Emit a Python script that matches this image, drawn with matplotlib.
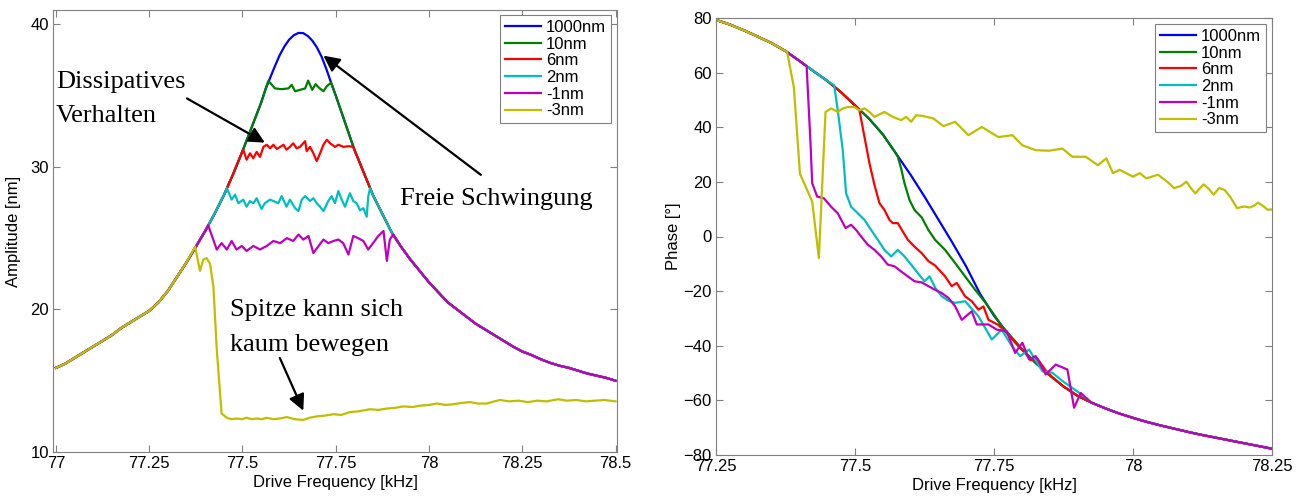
import matplotlib
matplotlib.use('agg')
import matplotlib.pyplot as plt
import numpy as np

plt.rcParams['font.family'] = ['Liberation Sans', 'DejaVu Sans']

labels = ['1000nm', '10nm', '6nm', '2nm', '-1nm', '-3nm']
colors = ['#0000ff', '#008000', '#ff0000', '#00bfbf', '#bf00bf', '#bfbf00']

# ---- amplitude: free oscillation (1000nm)
amp_f = [77.000, 77.025, 77.050, 77.075, 77.100, 77.125, 77.150, 77.175, 77.200, 77.225,
         77.250, 77.275, 77.300, 77.325, 77.350, 77.375, 77.400, 77.425, 77.450, 77.475,
         77.500, 77.525, 77.550, 77.5625, 77.575, 77.5875, 77.600, 77.6125, 77.625, 77.6375,
         77.650, 77.6625, 77.675, 77.6875, 77.700, 77.7125, 77.725, 77.7375, 77.750, 77.775,
         77.800, 77.825, 77.850, 77.875, 77.900, 77.925, 77.950, 77.975,
         78.000, 78.025, 78.050, 78.075, 78.100, 78.125, 78.150, 78.175, 78.200, 78.225,
         78.250, 78.275, 78.300, 78.325, 78.350, 78.375, 78.400, 78.425, 78.450, 78.475,
         78.500]
amp_free = [15.9, 16.2, 16.6, 17.0, 17.4, 17.8, 18.2, 18.7, 19.1, 19.5,
            19.9, 20.5, 21.3, 22.3, 23.3, 24.4, 25.5, 26.7, 28.0, 29.5,
            31.1, 32.8, 34.5, 35.5, 36.3, 37.1, 37.85, 38.45, 38.92, 39.23,
            39.39, 39.38, 39.18, 38.84, 38.35, 37.7, 36.85, 35.9, 35.0, 33.1,
            31.2, 29.6, 28.0, 26.7, 25.4, 24.4, 23.5, 22.7,
            21.9, 21.2, 20.5, 20.0, 19.5, 19.0, 18.6, 18.2, 17.8, 17.4,
            17.05, 16.8, 16.5, 16.25, 16.05, 15.9, 15.7, 15.5, 15.35, 15.2,
            15.0]

# amplitude plateaus where the tip interacts
amp10_f = [77.569, 77.574, 77.587, 77.605, 77.623, 77.632, 77.641, 77.654, 77.668, 77.676,
           77.687, 77.696, 77.705, 77.717, 77.726, 77.735]
amp10 = [36.0, 35.9, 35.5, 35.45, 35.5, 35.75, 35.3, 35.4, 35.5, 36.05,
         35.4, 35.8, 35.55, 35.3, 35.65, 35.85]

amp6_f = [77.502, 77.511, 77.520, 77.529, 77.538, 77.547, 77.556, 77.565, 77.574, 77.583,
          77.592, 77.601, 77.610, 77.618, 77.627, 77.636, 77.645, 77.654, 77.668, 77.672,
          77.681, 77.690, 77.699, 77.708, 77.717, 77.726, 77.735, 77.748, 77.757, 77.771,
          77.784, 77.797]
amp6 = [31.2, 30.5, 30.95, 30.6, 31.05, 30.7, 31.4, 31.55, 31.3, 31.55,
        31.25, 31.4, 31.55, 31.2, 31.4, 31.65, 31.3, 31.4, 31.8, 31.1,
        31.4, 30.95, 30.4, 30.95, 31.55, 31.9, 31.65, 31.4, 31.55, 31.4,
        31.45, 31.4]

amp2_f = [77.458, 77.471, 77.480, 77.489, 77.502, 77.511, 77.520, 77.529, 77.538, 77.551,
          77.560, 77.574, 77.583, 77.596, 77.605, 77.618, 77.627, 77.641, 77.650, 77.659,
          77.668, 77.681, 77.690, 77.699, 77.708, 77.717, 77.730, 77.739, 77.748, 77.757,
          77.766, 77.775, 77.783, 77.788, 77.797, 77.806, 77.815, 77.824, 77.833, 77.837,
          77.842]
amp2 = [28.5, 27.7, 28.05, 27.45, 27.7, 27.2, 27.6, 27.45, 27.8, 27.05,
        27.45, 27.7, 27.6, 27.45, 27.95, 27.2, 27.7, 27.1, 26.9, 27.7,
        27.95, 27.6, 27.8, 27.45, 27.2, 26.9, 27.6, 27.95, 27.45, 28.3,
        27.7, 27.2, 27.8, 28.15, 27.6, 27.45, 26.95, 27.1, 26.5, 27.9,
        28.5]

ampm1_f = [77.408, 77.431, 77.444, 77.458, 77.471, 77.484, 77.498, 77.511, 77.529, 77.547,
           77.565, 77.583, 77.601, 77.619, 77.636, 77.650, 77.663, 77.677, 77.690, 77.704,
           77.717, 77.730, 77.744, 77.757, 77.770, 77.784, 77.797, 77.810, 77.824, 77.837,
           77.850, 77.864, 77.878, 77.887, 77.895, 77.904]
ampm1 = [25.9, 24.2, 24.65, 24.2, 24.8, 24.2, 24.45, 24.1, 24.45, 24.2,
         24.45, 24.8, 24.65, 25.0, 24.8, 25.25, 24.9, 25.15, 23.95, 24.45,
         24.9, 24.65, 24.8, 24.9, 24.65, 23.85, 25.15, 25.0, 24.8, 24.2,
         24.65, 25.15, 25.5, 23.4, 24.9, 25.25]

ampm3_f = [77.373, 77.386, 77.395, 77.404, 77.413, 77.422, 77.431, 77.444, 77.458, 77.471,
           77.484, 77.498, 77.511, 77.525, 77.538, 77.552, 77.565, 77.583, 77.600, 77.619,
           77.640, 77.663, 77.680, 77.699, 77.720, 77.744, 77.765, 77.788, 77.810, 77.842,
           77.865, 77.887, 77.910, 77.932, 77.955, 77.976, 78.000, 78.021, 78.045, 78.065,
           78.090, 78.110, 78.130, 78.155, 78.175, 78.190, 78.215, 78.240, 78.265, 78.290,
           78.315, 78.346, 78.370, 78.395, 78.420, 78.445, 78.470, 78.500]
ampm3 = [24.4, 22.7, 23.5, 23.6, 23.2, 21.6, 17.2, 12.7, 12.4, 12.3,
         12.35, 12.3, 12.4, 12.3, 12.35, 12.3, 12.4, 12.3, 12.35, 12.45,
         12.3, 12.25, 12.4, 12.5, 12.55, 12.65, 12.6, 12.8, 12.85, 13.0,
         12.95, 13.05, 13.1, 13.2, 13.15, 13.25, 13.3, 13.4, 13.3, 13.35,
         13.45, 13.5, 13.4, 13.4, 13.55, 13.65, 13.55, 13.6, 13.5, 13.6,
         13.55, 13.7, 13.6, 13.65, 13.55, 13.6, 13.65, 13.55]

# ---- phase: free oscillation (1000nm)
ph_f = [77.250, 77.275, 77.300, 77.325, 77.350, 77.375, 77.400, 77.425, 77.450, 77.475,
        77.500, 77.525, 77.550, 77.575, 77.600, 77.625, 77.650, 77.675, 77.700, 77.725,
        77.750, 77.775, 77.800, 77.825, 77.850, 77.875, 77.900, 77.925, 77.950, 77.975,
        78.000, 78.025, 78.050, 78.075, 78.100, 78.125, 78.150, 78.175, 78.200, 78.225,
        78.250]
ph_free = [79.3, 77.6, 75.5, 73.2, 70.8, 67.9, 64.3, 60.6, 57.0, 52.8,
           48.0, 43.2, 37.4, 30.0, 22.6, 14.6, 6.2, -2.2, -11.0, -21.0,
           -29.0, -35.6, -41.2, -46.3, -50.8, -54.9, -58.3, -60.8, -62.9, -64.8,
           -66.4, -67.9, -69.2, -70.4, -71.6, -72.7, -73.7, -74.7, -75.7, -76.7,
           -77.7]

ph10_f = [77.577, 77.583, 77.589, 77.598, 77.607, 77.620, 77.632, 77.644, 77.662, 77.680,
          77.698, 77.716, 77.735, 77.750, 77.764, 77.775]
ph10 = [29.2, 24.9, 19.5, 13.4, 9.7, 7.0, 2.4, -1.2, -4.9, -9.7,
        -14.6, -19.5, -24.3, -28.6, -32.8, -35.3]

ph6_f = [77.508, 77.517, 77.526, 77.535, 77.544, 77.553, 77.562, 77.568, 77.577, 77.586,
         77.595, 77.607, 77.620, 77.632, 77.644, 77.662, 77.674, 77.683, 77.698, 77.710,
         77.722, 77.731, 77.740, 77.758, 77.776, 77.795, 77.807, 77.816, 77.828, 77.843,
         77.855]
ph6 = [46.2, 36.5, 26.8, 18.9, 12.2, 9.7, 6.1, 4.9, 4.9, 1.8,
       -1.2, -3.7, -6.1, -9.0, -10.6, -14.6, -18.2, -17.0, -21.9, -23.7,
       -26.8, -25.6, -30.5, -32.4, -36.0, -40.4, -42.9, -45.3, -44.7, -49.0,
       -51.5]

ph2_f = [77.4625, 77.469, 77.478, 77.484, 77.493, 77.505, 77.517, 77.529, 77.541, 77.553,
         77.565, 77.577, 77.589, 77.601, 77.613, 77.625, 77.634, 77.645, 77.656, 77.668,
         77.680, 77.698, 77.722, 77.746, 77.764, 77.782, 77.797, 77.813, 77.828, 77.837,
         77.855, 77.873, 77.903]
ph2 = [55.4, 46.2, 31.6, 15.8, 10.9, 8.5, 6.1, 2.4, -1.2, -4.9,
       -7.3, -4.9, -7.3, -10.3, -13.4, -16.4, -14.6, -19.0, -21.9, -23.5,
       -24.3, -23.7, -29.2, -37.7, -34.1, -40.1, -43.8, -41.4, -46.3, -49.3,
       -49.9, -52.9, -57.2]

phm1_f = [77.413, 77.420, 77.423, 77.432, 77.444, 77.457, 77.469, 77.483, 77.493, 77.502,
          77.511, 77.523, 77.535, 77.547, 77.559, 77.571, 77.583, 77.595, 77.607, 77.620,
          77.632, 77.644, 77.656, 77.668, 77.680, 77.692, 77.710, 77.719, 77.740, 77.755,
          77.773, 77.788, 77.801, 77.813, 77.825, 77.843, 77.861, 77.882, 77.894, 77.906]
phm1 = [62.3, 34.1, 19.5, 14.6, 14.0, 10.9, 8.5, 3.1, 4.3, 2.4,
        0.0, -3.0, -4.9, -7.3, -10.3, -10.9, -12.8, -14.6, -16.4, -16.8,
        -18.2, -19.5, -20.7, -22.5, -25.5, -30.5, -27.4, -32.2, -32.2, -34.1,
        -34.7, -42.6, -38.9, -45.0, -43.8, -50.5, -46.9, -48.7, -62.7, -57.3]

phm3_f = [77.378, 77.390, 77.401, 77.414, 77.423, 77.435, 77.447, 77.457, 77.469, 77.478,
          77.487, 77.499, 77.508, 77.517, 77.526, 77.535, 77.553, 77.568, 77.583, 77.592,
          77.601, 77.610, 77.620, 77.629, 77.641, 77.659, 77.680, 77.704, 77.728, 77.758,
          77.783, 77.801, 77.825, 77.849, 77.873, 77.891, 77.915, 77.937, 77.952, 77.964,
          77.976, 78.000, 78.012, 78.024, 78.045, 78.062, 78.074, 78.086, 78.096, 78.105,
          78.112, 78.127, 78.136, 78.145, 78.155, 78.165, 78.175, 78.187, 78.200, 78.210,
          78.217, 78.225, 78.235, 78.242, 78.250]
phm3 = [67.5, 54.7, 23.0, 17.0, 12.8, -7.9, 45.6, 46.9, 45.6, 46.9,
        47.4, 47.4, 46.2, 46.9, 45.6, 43.8, 45.6, 43.8, 42.6, 43.8,
        42.0, 44.4, 44.2, 43.8, 43.2, 40.4, 42.0, 37.1, 40.1, 36.4,
        37.1, 33.4, 31.6, 31.4, 32.2, 29.2, 29.2, 26.1, 28.6, 23.2,
        24.4, 21.9, 23.2, 21.3, 22.6, 20.0, 17.7, 18.5, 20.1, 17.5,
        15.8, 19.1, 17.5, 15.3, 17.8, 17.0, 14.5, 10.4, 11.0, 10.6,
        11.2, 12.4, 11.0, 9.8, 9.9]


def merge(base_f, base_v, seg_f, seg_v):
    # curve follows the free oscillation outside its own segment
    base_f = np.array(base_f)
    base_v = np.array(base_v)
    lo = base_f < seg_f[0]
    hi = base_f > seg_f[-1]
    return (np.concatenate([base_f[lo], seg_f, base_f[hi]]),
            np.concatenate([base_v[lo], seg_v, base_v[hi]]))


amp_segs = [(amp10_f, amp10), (amp6_f, amp6), (amp2_f, amp2),
            (ampm1_f, ampm1), (ampm3_f, ampm3)]
ph_segs = [(ph10_f, ph10), (ph6_f, ph6), (ph2_f, ph2),
           (phm1_f, phm1), (phm3_f, phm3)]

fig = plt.figure(figsize=(13.01, 5.0), dpi=100)
ax1 = fig.add_axes([53 / 1301, 48 / 500, 564 / 1301, 442 / 500])
ax2 = fig.add_axes([716 / 1301, 45 / 500, 556 / 1301, 437 / 500])

lw = 1.6
ax1.plot(amp_f, amp_free, color=colors[0], lw=lw, label=labels[0])
for (sf, sv), c, lab in zip(amp_segs, colors[1:], labels[1:]):
    x, y = merge(amp_f, amp_free, sf, sv)
    ax1.plot(x, y, color=c, lw=lw, label=lab)

ax2.plot(ph_f, ph_free, color=colors[0], lw=lw, label=labels[0])
for (sf, sv), c, lab in zip(ph_segs, colors[1:], labels[1:]):
    x, y = merge(ph_f, ph_free, sf, sv)
    ax2.plot(x, y, color=c, lw=lw, label=lab)

ax1.set_xlim(76.992, 78.504)
ax1.set_ylim(10, 41)
ax1.set_xticks([77, 77.25, 77.5, 77.75, 78, 78.25, 78.5])
ax1.set_xticklabels(['77', '77.25', '77.5', '77.75', '78', '78.25', '78.5'])
ax1.set_yticks([10, 20, 30, 40])
ax1.set_ylabel('Amplitude [nm]', fontsize=12)
ax1.yaxis.set_label_coords(-0.057, 0.5)

ax2.set_xlim(77.25, 78.25)
ax2.set_ylim(-80, 80)
ax2.set_xticks([77.25, 77.5, 77.75, 78, 78.25])
ax2.set_xticklabels(['77.25', '77.5', '77.75', '78', '78.25'])
ax2.set_yticks(np.arange(-80, 81, 20))
ax2.set_ylabel('Phase [°]', fontsize=12)
ax2.yaxis.set_label_coords(-0.063, 0.5)

for ax in (ax1, ax2):
    ax.set_xlabel('Drive Frequency [kHz]', fontsize=12, labelpad=3)
    ax.tick_params(direction='in', top=True, right=True, length=5, width=0.8,
                   color='#808080', labelsize=12, pad=3)
    for s in ax.spines.values():
        s.set_color('#808080')
        s.set_linewidth(0.8)

leg_kw = dict(loc='upper right', fontsize=12, labelspacing=0.1, handlelength=2.2,
              handletextpad=0.28, borderpad=0.3, borderaxespad=0, fancybox=False,
              framealpha=1, edgecolor='#808080')
leg1 = ax1.legend(bbox_to_anchor=(1 - 6 / 564, 1 - 5 / 442), **leg_kw)
leg2 = ax2.legend(bbox_to_anchor=(1 - 6 / 556, 1 - 6 / 437), **leg_kw)
for leg in (leg1, leg2):
    leg.get_frame().set_linewidth(0.8)

# annotations in the amplitude plot
serif = dict(family=['Liberation Serif', 'DejaVu Serif'], fontsize=19)
arrow = dict(arrowstyle='-|>', color='k', lw=1.6, mutation_scale=24,
             shrinkA=0, shrinkB=0)
ax1.text(77.0, 35.5, 'Dissipatives', va='baseline', **serif)
ax1.text(77.0, 33.15, 'Verhalten', va='baseline', **serif)
ax1.annotate('', xy=(77.560, 31.7), xytext=(77.351, 34.8), arrowprops=arrow)
ax1.text(77.922, 27.34, 'Freie Schwingung', va='baseline', **serif)
ax1.annotate('', xy=(77.717, 37.8), xytext=(78.139, 29.44), arrowprops=arrow)
ax1.text(77.466, 19.53, 'Spitze kann sich', va='baseline', **serif)
ax1.text(77.466, 17.08, 'kaum bewegen', va='baseline', **serif)
ax1.annotate('', xy=(77.663, 12.9), xytext=(77.600, 16.6), arrowprops=arrow)

fig.savefig('out.png', dpi=100)
